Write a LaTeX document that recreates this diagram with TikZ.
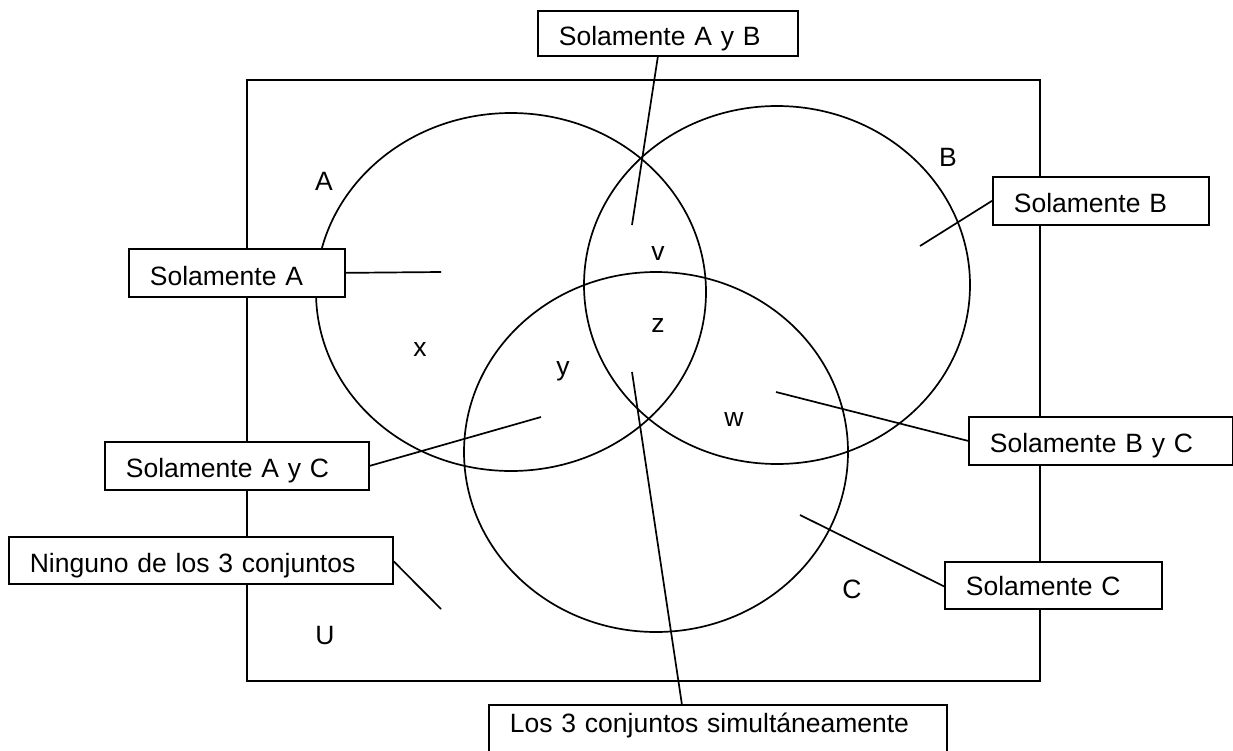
\documentclass[tikz,border=0pt]{standalone}
\usepackage{fontspec}
\setmainfont{Liberation Sans}
\begin{document}
\begin{tikzpicture}[x=1pt,y=-1pt,line width=1.7pt,
  lbox/.style={draw,fill=white,anchor=north west,inner xsep=21pt,inner ysep=0pt,align=left,font=\fontsize{26.5}{30}\selectfont},
  lett/.style={font=\fontsize{26.5}{30}\selectfont,inner sep=0pt},
  conn/.style={line width=1.7pt}]
\useasboundingbox (0,0) rectangle (1233,750);
% universe
\draw (247,80) rectangle (1040,681);
% sets
\draw (511,292) ellipse [x radius=195, y radius=179];
\draw (777,285) ellipse [x radius=193, y radius=179];
\draw (656,452) ellipse [x radius=192, y radius=180];
% letters
\node[lett] (lA) at (324,181) {A};
\node[lett] (lB) at (948,157) {B};
\node[lett] (lC) at (852,589) {C};
\node[lett] (lU) at (325,636) {U};
\node[lett] (lx) at (420,349) {x};
\node[lett] (ly) at (563,371) {y};
\node[lett] (lv) at (658,253) {v};
\node[lett] (lz) at (658,325) {z};
\node[lett] (lw) at (734,419) {w};
% end points
\coordinate (pab) at (632,225);
\coordinate (pa) at (441,272);
\coordinate (pb) at (920,246);
\coordinate (pbc) at (776,392);
\coordinate (pc) at (800,515);
\coordinate (pac) at (541,417);
\coordinate (pn) at (441,609);
\coordinate (pabc) at (632,372);
% boxes
\node[lbox,text width=218pt,text height=35pt,text depth=10pt] (sab) at (537,10) {Solamente A y B};
\node[lbox,text width=174pt,text height=37pt,text depth=11pt] (sa) at (128,248) {Solamente A};
\node[lbox,text width=174pt,text height=36pt,text depth=12pt] (sb) at (992,176) {Solamente B};
\node[lbox,text width=222pt,text height=36pt,text depth=12pt] (sbc) at (968,416) {Solamente B y C};
\node[lbox,text width=175pt,text height=34pt,text depth=13pt] (sc) at (944,561) {Solamente C};
\node[lbox,text width=222pt,text height=36pt,text depth=12pt] (sac) at (104,441) {Solamente A y C};
\node[lbox,text width=342pt,text height=36pt,text depth=11pt] (nin) at (8,536) {Ninguno de los 3 conjuntos};
\node[lbox,text width=416pt,text height=28pt,text depth=22pt] (los) at (488,704) {Los 3 conjuntos simultáneamente};
% connectors
\draw[conn] ([xshift=-10pt]sab.south) -- (pab);
\draw[conn] (sa.east) -- (pa);
\draw[conn] (sb.west) -- (pb);
\draw[conn] (sbc.west) -- (pbc);
\draw[conn] ([yshift=-1pt]sc.west) -- (pc);
\draw[conn] (sac.east) -- (pac);
\draw[conn] ([yshift=-1pt]nin.east) -- (pn);
\draw[conn] ([xshift=-36pt]los.north) -- (pabc);
\end{tikzpicture}
\end{document}
